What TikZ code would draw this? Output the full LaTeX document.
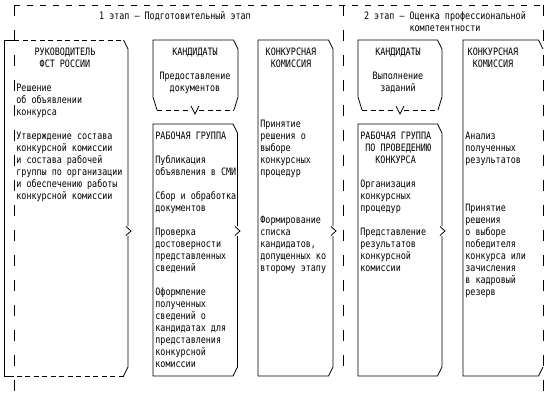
\documentclass[tikz,border=0pt]{standalone}
\usepackage{fontspec}
\newfontfamily\mono[FakeStretch=0.823]{DejaVu Sans Mono}
\usepackage{tikz}

\begin{document}
\begin{tikzpicture}[x=1pt,y=-1pt,line width=0.8pt,
            txt/.style={anchor=base west, inner sep=0pt, font=\mono\fontsize{10.2}{12}\selectfont},
            ctr/.style={txt, anchor=base},
            frm/.style={dash pattern=on 11pt off 14pt},
            frmh/.style={dash pattern=on 6pt off 7pt},
            seam/.style={dash pattern=on 5pt off 3.5pt}]
				\useasboundingbox (0,0) rectangle (555,400);

				\draw[frmh] (14,5) -- (543,5);
				\draw[frm] (14,5) -- (14,400);
				\draw[frm] (343,5) -- (343,370);
				\draw[frm] (543,5) -- (543,400);
				\node[ctr] (st1) at (175,19.5) {1 этап – Подготовительный этап};
				\node[ctr] (st2) at (445,19.5) {2 этап – Оценка профессиональной};
				\node[ctr] (st2b) at (445,31.5) {компетентности};

				\draw (14,40) -- (4,40) -- (4,376) -- (14,376);
				\draw[seam] (14,40) -- (123.5,40) (123.5,376) -- (14,376);
				\draw (123.5,40) -- (128,49) -- (128,226) (128,236) -- (128,367) -- (123.5,376);
				\draw (126,226.5) -- (131,231) -- (126,235.5);
				\node[ctr] (ruk1) at (65,55.5) {РУКОВОДИТЕЛЬ};
				\node[ctr] (ruk2) at (65,67.5) {ФСТ РОССИИ};
				\foreach \s [count=\i from 0] in {Решение,об объявлении,конкурса}
					\node[txt] (ruka\i) at (16,{91.5+12*\i}) {\s};
				\foreach \s [count=\i from 0] in {Утверждение состава,конкурсной комиссии,и состава рабочей,группы по организации,и обеспечению работы,конкурсной комиссии}
					\node[txt] (rukb\i) at (16,{139.5+12*\i}) {\s};

				\draw (157,110) -- (153,97) -- (153,40) -- (233.5,40) -- (238,49) -- (238,97) -- (234,110);
				\draw[seam] (157,110) -- (191,110) (199,110) -- (234,110);
				\draw (191,106) -- (195,114) -- (199,106);
				\node[ctr] (kan1) at (195,55.5) {КАНДИДАТЫ};
				\node[ctr] (kan2) at (195,79.5) {Предоставление};
				\node[ctr] (kan3) at (195,91.5) {документов};

				\draw (237.5,226) -- (237.5,133) -- (233,124) -- (153,124) -- (153,376) -- (233,376) -- (237.5,367) -- (237.5,236);
				\draw (235,226.5) -- (240,231) -- (235,235.5);
				\node[txt] (rg0) at (155,139.5) {РАБОЧАЯ ГРУППА};
				\foreach \s [count=\i from 0] in {Публикация,объявления в СМИ}
					\node[txt] (rga\i) at (155,{163.5+12*\i}) {\s};
				\foreach \s [count=\i from 0] in {Сбор и обработка,документов}
					\node[txt] (rgb\i) at (155,{199.5+12*\i}) {\s};
				\foreach \s [count=\i from 0] in {Проверка,достоверности,представленных,сведений}
					\node[txt] (rgc\i) at (155,{235.5+12*\i}) {\s};
				\foreach \s [count=\i from 0] in {Оформление,полученных,сведений о,кандидатах для,представления,конкурсной,комиссии}
					\node[txt] (rgd\i) at (155,{295.5+12*\i}) {\s};

				\draw (333,226) -- (333,49) -- (328.5,40) -- (258,40) -- (258,376) -- (328.5,376) -- (333,367) -- (333,236);
				\draw (331,226.5) -- (336,231) -- (331,235.5);
				\node[ctr] (kk1) at (291,55.5) {КОНКУРСНАЯ};
				\node[ctr] (kk2) at (291,67.5) {КОМИССИЯ};
				\foreach \s [count=\i from 0] in {Принятие,решения о,выборе,конкурсных,процедур}
					\node[txt] (kka\i) at (260,{127.5+12*\i}) {\s};
				\foreach \s [count=\i from 0] in {Формирование,списка,{кандидатов,},допущенных ко,второму этапу}
					\node[txt] (kkb\i) at (260,{223.5+12*\i}) {\s};

				\draw (362,110) -- (358,97) -- (358,40) -- (437.5,40) -- (442,49) -- (442,97) -- (438,110);
				\draw[seam] (362,110) -- (396,110) (404,110) -- (438,110);
				\draw (396,106) -- (400,114) -- (404,106);
				\node[ctr] (kn1) at (398,55.5) {КАНДИДАТЫ};
				\node[ctr] (kn2) at (398,79.5) {Выполнение};
				\node[ctr] (kn3) at (398,91.5) {заданий};

				\draw (442,226) -- (442,133) -- (437.5,124) -- (358,124) -- (358,376) -- (437.5,376) -- (442,367) -- (442,236);
				\draw (440,226.5) -- (445,231) -- (440,235.5);
				\node[txt] (rp1) at (360,139.5) {РАБОЧАЯ ГРУППА};
				\node[txt] (rp2) at (365,151.5) {ПО ПРОВЕДЕНИЮ};
				\node[txt] (rp3) at (375,163.5) {КОНКУРСА};
				\foreach \s [count=\i from 0] in {Организация,конкурсных,процедур}
					\node[txt] (rpa\i) at (360,{187.5+12*\i}) {\s};
				\foreach \s [count=\i from 0] in {Представление,результатов,конкурсной,комиссии}
					\node[txt] (rpb\i) at (360,{235.5+12*\i}) {\s};

				\draw (543,49) -- (538.5,40) -- (463,40) -- (463,376) -- (538.5,376) -- (543,367);
				\node[ctr] (km1) at (493,55.5) {КОНКУРСНАЯ};
				\node[ctr] (km2) at (493,67.5) {КОМИССИЯ};
				\foreach \s [count=\i from 0] in {Анализ,полученных,результатов}
					\node[txt] (kma\i) at (465,{139.5+12*\i}) {\s};
				\foreach \s [count=\i from 0] in {Принятие,решения,о выборе,победителя,конкурса или,зачисления,в кадровый,резерв}
					\node[txt] (kmb\i) at (465,{211.5+12*\i}) {\s};
		\end{tikzpicture}
\end{document}
